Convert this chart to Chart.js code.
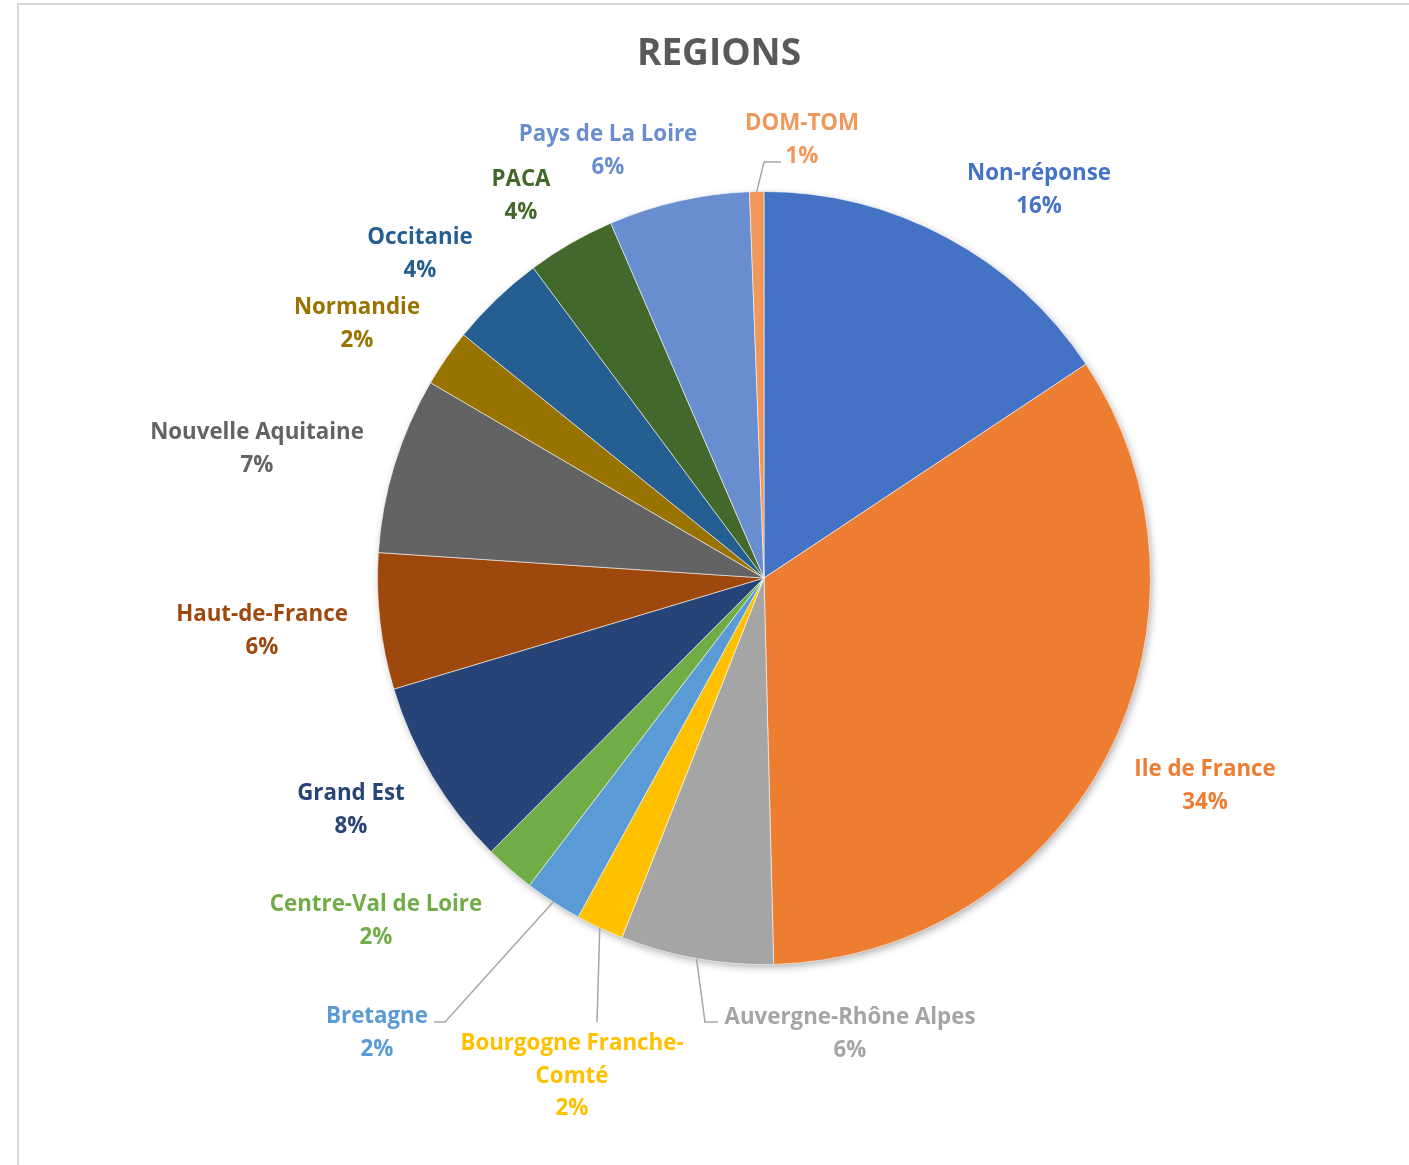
<!DOCTYPE html>
<html>
<head>
<meta charset="utf-8">
<script src="https://cdn.jsdelivr.net/npm/chart.js@4.4.1/dist/chart.umd.min.js"></script>
<style>
  html, body { margin: 0; padding: 0; background: #ffffff; overflow: hidden; }
  #c { position: absolute; left: 0; top: 0; }
</style>
</head>
<body>
<canvas id="c" width="1409" height="1165"></canvas>
<script>
// ---- data ----
const categories = ["Non-réponse", "Ile de France", "Auvergne-Rhône Alpes", "Bourgogne Franche-Comté",
  "Bretagne", "Centre-Val de Loire", "Grand Est", "Haut-de-France", "Nouvelle Aquitaine",
  "Normandie", "Occitanie", "PACA", "Pays de La Loire", "DOM-TOM"];
const shares = [15.7, 34.0, 6.4, 2.0, 2.4, 2.1, 7.9, 5.7, 7.4, 2.4, 4.0, 3.7, 5.9, 0.6];
const titleText = "REGIONS";

// ---- styles ----
const sliceColors = ["#4472C4", "#ED7D31", "#A5A5A5", "#FFC000", "#5B9BD5", "#70AD47", "#264478",
  "#9E480E", "#636363", "#997300", "#255E91", "#43682B", "#698ED0", "#F1975A"];
// label lines (wrapped text) for each category
const labelLines = [["Non-réponse"], ["Ile de France"], ["Auvergne-Rhône Alpes"], ["Bourgogne Franche-", "Comté"],
  ["Bretagne"], ["Centre-Val de Loire"], ["Grand Est"], ["Haut-de-France"], ["Nouvelle Aquitaine"],
  ["Normandie"], ["Occitanie"], ["PACA"], ["Pays de La Loire"], ["DOM-TOM"]];
// label first-line centre, as offsets from pie centre (px)
const labelOffsets = [[275, -404], [441, 192], [86, 440], [-192, 466], [-387, 439], [-388, 327], [-413, 216],
  [-502, 37], [-507, -145], [-407, -270], [-344, -340], [-243, -398], [-156, -443], [38, -454]];
// leader lines: [elbow dx, dy, end dx, dy] offsets from centre, or null
const leaders = [null, null, [-59, 444, -46, 444], [-167, 444, -167, 444], [-319, 444, -330, 444], null, null,
  null, null, null, null, null, null, [0, -416, 17, -416]];

const LABEL_FONT = "bold 22.3px 'Open Sans'";
const LINE_H = 32.5;

const overlay = {
  id: 'overlay',
  beforeDraw(chart) {
    const ctx = chart.ctx;
    ctx.save();
    ctx.strokeStyle = '#D9D9D9';
    ctx.lineWidth = 2;
    ctx.beginPath();
    ctx.moveTo(18, 1165);
    ctx.lineTo(18, 4);
    ctx.lineTo(1409, 4);
    ctx.stroke();
    ctx.restore();
  },
  beforeDatasetsDraw(chart) {
    const arc = chart.getDatasetMeta(0).data[0];
    const ctx = chart.ctx;
    ctx.save();
    ctx.shadowColor = 'rgba(0,0,0,0.35)';
    ctx.shadowBlur = 8;
    ctx.shadowOffsetX = 2;
    ctx.shadowOffsetY = 3;
    ctx.fillStyle = '#ffffff';
    ctx.beginPath();
    ctx.arc(arc.x, arc.y, arc.outerRadius - 1, 0, Math.PI * 2);
    ctx.fill();
    ctx.restore();
  },
  afterDraw(chart) {
    const ctx = chart.ctx;
    const meta = chart.getDatasetMeta(0);
    const cx = meta.data[0].x, cy = meta.data[0].y, R = meta.data[0].outerRadius;
    const total = shares.reduce((a, b) => a + b, 0);
    ctx.save();
    // title
    ctx.fillStyle = '#595959';
    ctx.font = "bold 37px 'Open Sans'";
    ctx.textAlign = 'center';
    ctx.textBaseline = 'middle';
    ctx.fillText(titleText, 719, 54);
    // leaders
    ctx.strokeStyle = '#A6A6A6';
    ctx.lineWidth = 1.5;
    meta.data.forEach((el, i) => {
      const L = leaders[i];
      if (!L) return;
      const mid = (el.startAngle + el.endAngle) / 2;
      ctx.beginPath();
      ctx.moveTo(cx + R * Math.cos(mid), cy + R * Math.sin(mid));
      ctx.lineTo(cx + L[0], cy + L[1]);
      ctx.lineTo(cx + L[2], cy + L[3]);
      ctx.stroke();
    });
    // labels
    ctx.font = LABEL_FONT;
    meta.data.forEach((el, i) => {
      const lines = labelLines[i].concat([Math.round(shares[i] / total * 100) + '%']);
      const [dx, dy] = labelOffsets[i];
      ctx.fillStyle = sliceColors[i];
      lines.forEach((t, k) => ctx.fillText(t, cx + dx, cy + dy + k * LINE_H));
    });
    ctx.restore();
  }
};

new Chart(document.getElementById('c'), {
  type: 'pie',
  data: {
    labels: categories,
    datasets: [{
      data: shares,
      backgroundColor: sliceColors,
      borderColor: 'rgba(255,255,255,0.55)',
      borderWidth: 1
    }]
  },
  options: {
    responsive: false,
    animation: false,
    layout: { padding: { left: 377, right: 258, top: 191, bottom: 200 } },
    plugins: { legend: { display: false }, tooltip: { enabled: false }, title: { display: false } }
  },
  plugins: [overlay]
});
</script>
</body>
</html>
